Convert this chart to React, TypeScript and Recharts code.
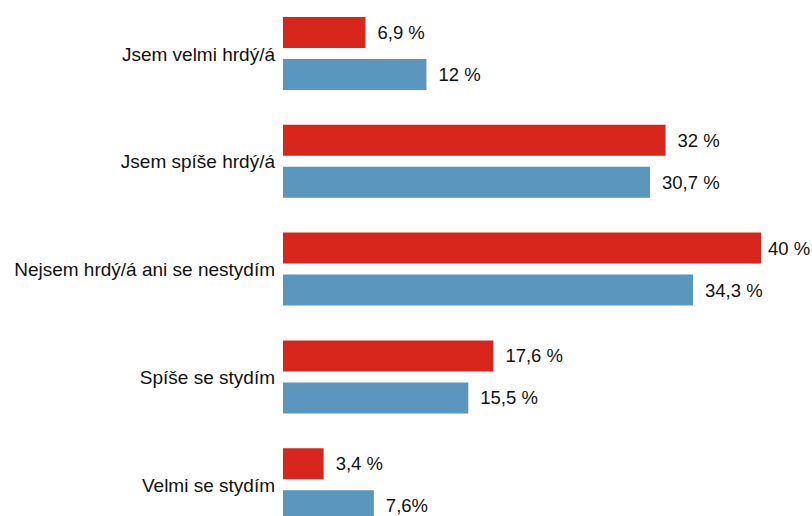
import React from "react";
import { BarChart, Bar, XAxis, YAxis, LabelList } from "recharts";

const categories = [
  "Jsem velmi hrdý/á",
  "Jsem spíše hrdý/á",
  "Nejsem hrdý/á ani se nestydím",
  "Spíše se stydím",
  "Velmi se stydím",
];
const redValues = [6.9, 32, 40, 17.6, 3.4];
const blueValues = [12, 30.7, 34.3, 15.5, 7.6];
const redLabels = ["6,9 %", "32 %", "40 %", "17,6 %", "3,4 %"];
const blueLabels = ["12 %", "30,7 %", "34,3 %", "15,5 %", "7,6%"];

const data = categories.map((name, i) => ({
  name,
  red: redValues[i],
  blue: blueValues[i],
  redLabel: redLabels[i],
  blueLabel: blueLabels[i],
}));

const FONT = "'Liberation Sans', Arial, sans-serif";
const RED = "#d9261d";
const BLUE = "#5a96bd";
const CHART_W = 812;

const ValueLabel = (props: any) => {
  const { x, y, width, height, value } = props;
  const label = String(value);
  const approxW = label.length * 10.5;
  const tx = Math.min(Number(x) + Number(width) + 12, CHART_W - approxW - 2);
  return (
    <text
      x={tx}
      y={Number(y) + Number(height) / 2}
      dominantBaseline="central"
      textAnchor="start"
      fill="#111"
      fontSize={18.5}
      fontFamily={FONT}
    >
      {label}
    </text>
  );
};

export default function App() {
  return (
    <div
      style={{
        position: "absolute",
        left: 0,
        top: 0,
        width: 812,
        height: 516,
        overflow: "hidden",
        background: "#fff",
      }}
    >
      <BarChart
        width={CHART_W}
        height={539}
        data={data}
        layout="vertical"
        margin={{ top: 0, right: 3, bottom: 0, left: 0 }}
        barSize={31}
        barGap={11}
      >
        <XAxis type="number" domain={[0, 44]} allowDataOverflow hide />
        <YAxis
          type="category"
          dataKey="name"
          width={283}
          axisLine={false}
          tickLine={false}
          tick={{ fill: "#111", fontSize: 19, fontFamily: FONT }}
        />
        <Bar dataKey="red" fill={RED} isAnimationActive={false}>
          <LabelList dataKey="redLabel" content={ValueLabel} />
        </Bar>
        <Bar dataKey="blue" fill={BLUE} isAnimationActive={false}>
          <LabelList dataKey="blueLabel" content={ValueLabel} />
        </Bar>
      </BarChart>
    </div>
  );
}
